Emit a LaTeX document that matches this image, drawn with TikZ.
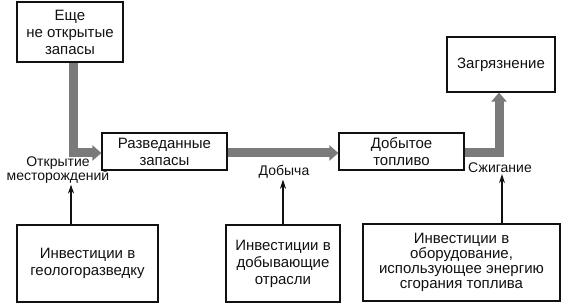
\documentclass[tikz,border=0pt]{standalone}
\usepackage{fontspec}
\setmainfont{Liberation Sans}
\usepackage{tikz}
\usetikzlibrary{arrows.meta,positioning,calc}
\definecolor{cInk}{HTML}{111111}
\definecolor{cFlow}{HTML}{7A7A7A}
\tikzset{
  box/.style={draw=cInk,line width=1.2pt,align=center,text=cInk,inner sep=2pt,
    font=\fontsize{15}{17}\selectfont},
  flow/.style={-{Triangle[length=9pt,width=15pt]},line width=9pt,color=cFlow,line join=miter},
  arr/.style={-{Stealth[length=9pt,width=6pt]},line width=1.1pt,color=cInk},
  lbl/.style={font=\fontsize{14}{14}\selectfont,text=cInk,align=center,inner sep=1pt},
}

\begin{document}
\begin{tikzpicture}[x=1pt,y=-1pt]
  \useasboundingbox (0,0) rectangle (570,307);
  % stocks
  \node[box,minimum width=106,minimum height=60] (unseen) at (70,32) {Еще\\не открытые\\запасы};
  \node[box,minimum width=125,minimum height=37] (explored) at (164.5,151.5) {Разведанные\\запасы};
  \node[box,minimum width=125,minimum height=37] (fuel) at (401.5,151.5) {Добытое\\топливо};
  \node[box,minimum width=108,minimum height=55] (pollution) at (501,64.5) {Загрязнение};
  % investments
  \node[box,minimum width=141,minimum height=77] (invgeo) at (87.5,263.5) {Инвестиции в\\геологоразведку};
  \node[box,minimum width=114,minimum height=77] (invmine) at (283,263.5) {Инвестиции в\\добывающие\\отрасли};
  \node[box,minimum width=197,minimum height=77,font=\fontsize{15}{15}\selectfont] (invequip) at (461.5,262.5)
    {Инвестиции в\\оборудование,\\использующее энергию\\сгорания топлива};
  % flow labels
  \node[lbl] (lopen) at (58,170) {Открытие\\месторождений};
  \node[lbl] (lextract) at (284,172) {Добыча};
  \node[lbl] (lburn) at (500,168) {Сжигание};
  % flows
  \draw[flow] ([xshift=3pt]unseen.south) |- ([yshift=-1.5pt]explored.west);
  \draw[flow] ([yshift=-1.5pt]explored.east) -- ([yshift=-1.5pt]fuel.west);
  \draw[flow] ([yshift=-1.5pt]fuel.east) -| ([xshift=-2pt]pollution.south);
  % controls
  \draw[arr] ([xshift=-16.5pt]invgeo.north) -- ([xshift=-16.5pt]invgeo.north |- lopen.south);
  \draw[arr] (invmine.north) -- (invmine.north |- lextract.south);
  \draw[arr] ([xshift=40.5pt]invequip.north) -- ([xshift=40.5pt]invequip.north |- lburn.south);
\end{tikzpicture}
\end{document}
